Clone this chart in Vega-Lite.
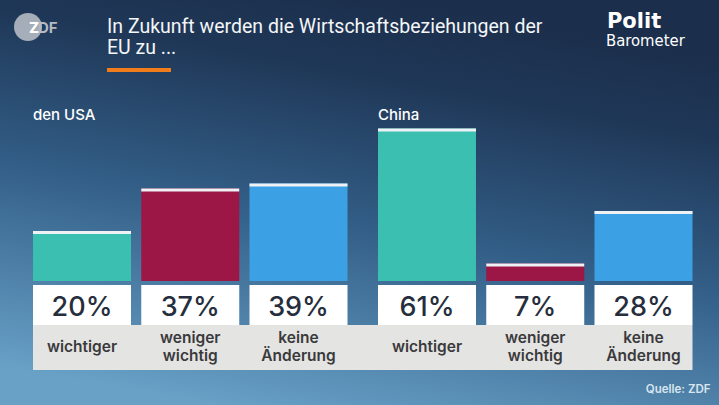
{
  "$schema": "https://vega.github.io/schema/vega-lite/v6.json",
  "width": 719,
  "height": 405,
  "padding": 0,
  "autosize": {"type": "none"},
  "background": "#2f5a82",
  "config": {
    "view": {"stroke": null},
    "axis": {"disable": true},
    "legend": {"disable": true}
  },
  "datasets": {
    "umfrage": [
      {"land": "den USA", "antwort": "wichtiger", "label": ["wichtiger"], "anteil": 0.20},
      {"land": "den USA", "antwort": "weniger wichtig", "label": ["weniger", "wichtig"], "anteil": 0.37},
      {"land": "den USA", "antwort": "keine Änderung", "label": ["keine", "Änderung"], "anteil": 0.39},
      {"land": "China", "antwort": "wichtiger", "label": ["wichtiger"], "anteil": 0.61},
      {"land": "China", "antwort": "weniger wichtig", "label": ["weniger", "wichtig"], "anteil": 0.07},
      {"land": "China", "antwort": "keine Änderung", "label": ["keine", "Änderung"], "anteil": 0.28}
    ],
    "laender": [{"land": "den USA"}, {"land": "China"}],
    "eins": [{}]
  },
  "layer": [
    {
      "data": {"name": "eins"},
      "mark": {
        "type": "rect",
        "fill": {
          "gradient": "linear",
          "x1": 0.62, "y1": 0, "x2": 0.3, "y2": 1,
          "stops": [
            {"offset": 0, "color": "#1b2e4b"},
            {"offset": 0.2, "color": "#1f3757"},
            {"offset": 0.55, "color": "#335f88"},
            {"offset": 1, "color": "#68a0c6"}
          ]
        }
      },
      "encoding": {}
    },
    {
      "data": {"name": "umfrage"},
      "mark": {"type": "bar"},
      "encoding": {
        "x": {
          "field": "land", "type": "nominal", "axis": null,
          "scale": {"domain": ["den USA", "China"], "paddingInner": 0.0884, "paddingOuter": 0.08625, "align": 0.5546}
        },
        "xOffset": {
          "field": "antwort", "type": "nominal",
          "scale": {"domain": ["wichtiger", "weniger wichtig", "keine Änderung"], "paddingInner": 0.0947, "paddingOuter": 0}
        },
        "y": {
          "field": "anteil", "type": "quantitative", "axis": null,
          "scale": {"domain": [-0.496, 1.124], "nice": false, "zero": false}
        },
        "color": {
          "field": "antwort", "type": "nominal", "legend": null,
          "scale": {"domain": ["wichtiger", "weniger wichtig", "keine Änderung"], "range": ["#3bbfb1", "#9c1646", "#3ca1e4"]}
        }
      }
    },
    {
      "data": {"name": "umfrage"},
      "mark": {"type": "tick", "color": "#eef2f5", "size": 98, "thickness": 3, "yOffset": 1.5, "opacity": 1},
      "encoding": {
        "x": {"field": "land", "type": "nominal"},
        "xOffset": {"field": "antwort", "type": "nominal"},
        "y": {"field": "anteil", "type": "quantitative"}
      }
    },
    {
      "data": {"name": "eins"},
      "mark": {"type": "rect", "color": "#e4e4e3"},
      "encoding": {
        "x": {"datum": "den USA", "type": "nominal", "bandPosition": 0},
        "x2": {"datum": "China", "bandPosition": 1},
        "y": {"datum": -0.176, "type": "quantitative"},
        "y2": {"datum": -0.356}
      }
    },
    {
      "data": {"name": "umfrage"},
      "mark": {"type": "bar", "color": "#ffffff"},
      "encoding": {
        "x": {"field": "land", "type": "nominal"},
        "xOffset": {"field": "antwort", "type": "nominal"},
        "y": {"datum": -0.016, "type": "quantitative"},
        "y2": {"datum": -0.176}
      }
    },
    {
      "data": {"name": "umfrage"},
      "mark": {"type": "text", "font": "Inter", "fontSize": 27, "fontWeight": 500, "color": "#262e3d", "baseline": "middle", "align": "center"},
      "encoding": {
        "x": {"field": "land", "type": "nominal"},
        "xOffset": {"field": "antwort", "type": "nominal"},
        "y": {"datum": -0.108, "type": "quantitative"},
        "text": {"field": "anteil", "type": "quantitative", "format": ".0%"}
      }
    },
    {
      "data": {"name": "umfrage"},
      "transform": [{"filter": "datum.antwort == 'wichtiger'"}],
      "mark": {"type": "text", "font": "Inter", "fontSize": 15.5, "fontWeight": 600, "color": "#3a3a3c", "baseline": "middle", "align": "center"},
      "encoding": {
        "x": {"field": "land", "type": "nominal"},
        "xOffset": {"field": "antwort", "type": "nominal"},
        "y": {"datum": -0.264, "type": "quantitative"},
        "text": {"field": "label"}
      }
    },
    {
      "data": {"name": "umfrage"},
      "transform": [{"filter": "datum.antwort != 'wichtiger'"}],
      "mark": {"type": "text", "font": "Inter", "fontSize": 15.5, "fontWeight": 600, "color": "#3a3a3c", "baseline": "middle", "align": "center", "lineHeight": 18},
      "encoding": {
        "x": {"field": "land", "type": "nominal"},
        "xOffset": {"field": "antwort", "type": "nominal"},
        "y": {"datum": -0.228, "type": "quantitative"},
        "text": {"field": "label"}
      }
    },
    {
      "data": {"name": "laender"},
      "mark": {"type": "text", "font": "Inter", "fontSize": 15, "fontWeight": 500, "color": "#ffffff", "baseline": "middle", "align": "left"},
      "encoding": {
        "x": {"field": "land", "type": "nominal", "bandPosition": 0},
        "y": {"datum": 0.664, "type": "quantitative"},
        "text": {"field": "land"}
      }
    },
    {
      "data": {"name": "eins"},
      "mark": {"type": "text", "font": "Roboto", "fontSize": 19.5, "color": "#f4f6f8", "baseline": "alphabetic", "align": "left", "lineHeight": 21},
      "encoding": {
        "x": {"datum": "den USA", "type": "nominal", "bandPosition": 0.2353},
        "y": {"datum": 0.992, "type": "quantitative"},
        "text": {"value": ["In Zukunft werden die Wirtschaftsbeziehungen der", "EU zu ..."]}
      }
    },
    {
      "data": {"name": "eins"},
      "mark": {"type": "rect", "color": "#f07d1a"},
      "encoding": {
        "x": {"datum": "den USA", "type": "nominal", "bandPosition": 0.2353},
        "x2": {"datum": "den USA", "bandPosition": 0.4388},
        "y": {"datum": 0.852, "type": "quantitative"},
        "y2": {"datum": 0.836}
      }
    },
    {
      "data": {"name": "eins"},
      "mark": {"type": "point", "shape": "circle", "filled": true, "size": 784, "color": "#b4bac3", "opacity": 0.9, "xOffset": -5},
      "encoding": {
        "x": {"datum": "den USA", "type": "nominal", "bandPosition": 0},
        "y": {"datum": 1.016, "type": "quantitative"}
      }
    },
    {
      "data": {"name": "eins"},
      "mark": {"type": "text", "font": "Inter", "fontSize": 15, "fontWeight": 800, "color": "#ffffff", "baseline": "middle", "align": "center", "dx": 1},
      "encoding": {
        "x": {"datum": "den USA", "type": "nominal", "bandPosition": 0},
        "y": {"datum": 1.012, "type": "quantitative"},
        "text": {"value": "Z"}
      }
    },
    {
      "data": {"name": "eins"},
      "mark": {"type": "text", "font": "Inter", "fontSize": 15, "fontWeight": 700, "color": "#b4bac3", "baseline": "middle", "align": "left", "dx": 5},
      "encoding": {
        "x": {"datum": "den USA", "type": "nominal", "bandPosition": 0},
        "y": {"datum": 1.012, "type": "quantitative"},
        "text": {"value": "DF"}
      }
    },
    {
      "data": {"name": "eins"},
      "mark": {"type": "text", "font": "DejaVu Sans", "fontSize": 21, "fontWeight": 700, "color": "#ffffff", "baseline": "alphabetic", "align": "left"},
      "encoding": {
        "x": {"datum": "China", "type": "nominal", "bandPosition": 0.728},
        "y": {"datum": 1.012, "type": "quantitative"},
        "text": {"value": "Polit"}
      }
    },
    {
      "data": {"name": "eins"},
      "mark": {"type": "text", "font": "DejaVu Sans Condensed, DejaVu Sans Mono", "fontSize": 16.5, "color": "#ffffff", "baseline": "alphabetic", "align": "left"},
      "encoding": {
        "x": {"datum": "China", "type": "nominal", "bandPosition": 0.725},
        "y": {"datum": 0.94, "type": "quantitative"},
        "text": {"value": "Barometer"}
      }
    },
    {
      "data": {"name": "eins"},
      "mark": {"type": "text", "font": "Inter", "fontSize": 11.5, "fontWeight": 600, "color": "#d8e6ef", "baseline": "middle", "align": "right", "dx": 18},
      "encoding": {
        "x": {"datum": "China", "type": "nominal", "bandPosition": 1},
        "y": {"datum": -0.436, "type": "quantitative"},
        "text": {"value": "Quelle: ZDF"}
      }
    }
  ]
}
